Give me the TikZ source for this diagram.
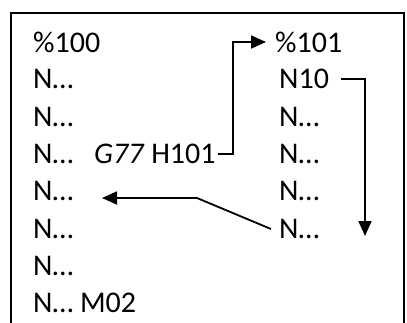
\documentclass[tikz,border=0pt]{standalone}
\usepackage{fontspec}
\setmainfont{Carlito}
\usetikzlibrary{arrows.meta}
\begin{document}
\begin{tikzpicture}[x=1pt,y=-1pt,
  txt/.style={anchor=west,inner sep=0pt,font=\fontsize{30}{32}\selectfont},
  arr/.style={line width=1.8pt,-{Triangle[length=15pt,width=13pt]}},
  frame/.style={line width=2pt}]
\useasboundingbox (0,0) rectangle (407,322);
\draw[frame] (11,330) -- (11,13) -- (404,13) -- (404,330);
% left column
\node[txt] (l0) at (33,42)  {\%100};
\node[txt] (l1) at (33,79)  {N…};
\node[txt] (l2) at (33,117) {N…};
\node[txt] (l3) at (33,154) {N…};
\node[txt] (l4) at (33,191) {N…};
\node[txt] (l5) at (33,229) {N…};
\node[txt] (l6) at (33,266) {N…};
\node[txt] (l7) at (33,303) {N… M02};
\node[txt] (g)  at (94,154) {\textit{G77} H101};
% right column
\node[txt] (r0) at (275,42)  {\%101};
\node[txt] (r1) at (279,79)  {N10};
\node[txt] (r2) at (279,117) {N…};
\node[txt] (r3) at (279,154) {N…};
\node[txt] (r4) at (279,191) {N…};
\node[txt] (r5) at (279,229) {N…};
% connectors
\coordinate (c1) at (233,0);
\coordinate (s1) at (218,0);
\draw[arr] (g.east -| s1) -- (g.east -| c1) |- ([xshift=-9pt]r0.west);
\coordinate (c2) at (365,236);
\coordinate (s2) at (341,0);
\draw[arr] (r1.east -| s2) -| (c2);
\coordinate (k) at (197,198);
\coordinate (t) at (102,0);
\draw[arr] ([xshift=-8pt]r5.west) -- (k) -- (t |- k);
\end{tikzpicture}
\end{document}
